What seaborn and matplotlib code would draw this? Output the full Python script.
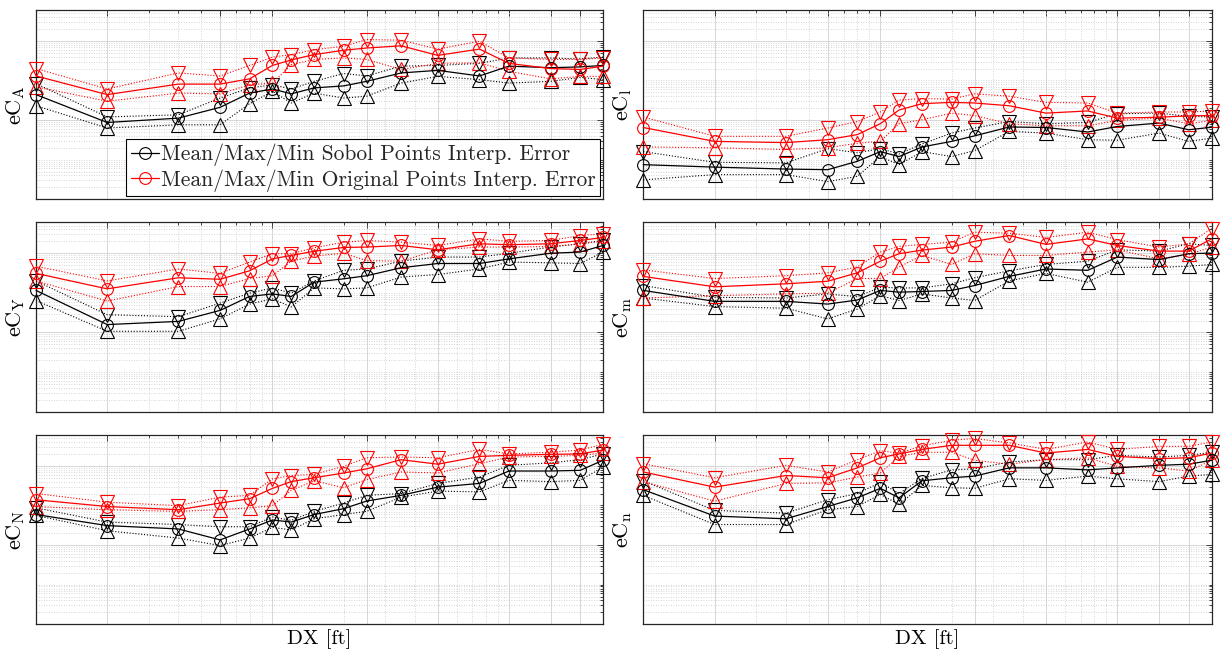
import seaborn as sns
import matplotlib.pyplot as plt
from matplotlib.ticker import FixedLocator, NullFormatter

dx = [1, 2, 4, 6, 8, 10, 12, 15, 20, 25, 35, 50, 75, 100, 150, 200, 250]

# eC_A
A_sob_mean = [0.044, 0.0087, 0.0112, 0.021, 0.048, 0.061, 0.046, 0.065, 0.073, 0.095, 0.155, 0.18, 0.13, 0.23, 0.21, 0.22, 0.24]
A_sob_max = [0.083, 0.012, 0.0136, 0.036, 0.065, 0.078, 0.061, 0.095, 0.15, 0.13, 0.23, 0.24, 0.27, 0.37, 0.37, 0.35, 0.39]
A_sob_min = [0.023, 0.0063, 0.0076, 0.0076, 0.026, 0.053, 0.027, 0.048, 0.036, 0.040, 0.086, 0.127, 0.105, 0.086, 0.095, 0.12, 0.105]
A_org_mean = [0.13, 0.044, 0.081, 0.081, 0.11, 0.24, 0.33, 0.45, 0.58, 0.66, 0.75, 0.43, 0.62, 0.27, 0.20, 0.19, 0.23]
A_org_max = [0.20, 0.061, 0.155, 0.13, 0.24, 0.39, 0.45, 0.60, 0.73, 1.08, 1.04, 0.62, 0.98, 0.37, 0.34, 0.34, 0.37]
A_org_min = [0.069, 0.030, 0.048, 0.046, 0.078, 0.086, 0.25, 0.34, 0.37, 0.34, 0.19, 0.27, 0.28, 0.17, 0.11, 0.127, 0.127]

# eC_l
l_sob_mean = [0.00075, 0.00065, 0.00058, 0.00056, 0.00091, 0.0016, 0.0012, 0.0021, 0.0029, 0.0040, 0.0067, 0.0065, 0.0050, 0.0069, 0.0084, 0.0057, 0.0066]
l_sob_max = [0.0016, 0.00086, 0.00083, 0.0019, 0.0015, 0.0019, 0.0014, 0.0025, 0.0047, 0.0063, 0.0092, 0.0081, 0.0087, 0.0145, 0.015, 0.0124, 0.012]
l_sob_min = [0.00031, 0.00042, 0.00042, 0.00028, 0.00038, 0.0012, 0.00075, 0.0016, 0.0012, 0.0017, 0.0052, 0.0047, 0.0032, 0.0031, 0.0047, 0.0029, 0.0035]
l_org_mean = [0.0065, 0.0029, 0.0027, 0.0032, 0.0043, 0.0081, 0.018, 0.026, 0.028, 0.027, 0.023, 0.015, 0.017, 0.0112, 0.0118, 0.0128, 0.013]
l_org_max = [0.012, 0.0039, 0.0039, 0.0063, 0.0092, 0.016, 0.032, 0.035, 0.034, 0.046, 0.040, 0.028, 0.027, 0.015, 0.016, 0.016, 0.017]
l_org_min = [0.0021, 0.0020, 0.0018, 0.0020, 0.0026, 0.0029, 0.0081, 0.0102, 0.015, 0.013, 0.0081, 0.0072, 0.0072, 0.0098, 0.0112, 0.0081, 0.0098]

# eC_Y
Y_sob_mean = [0.115, 0.0158, 0.019, 0.036, 0.081, 0.094, 0.081, 0.186, 0.226, 0.27, 0.43, 0.55, 0.55, 0.72, 1.0, 1.07, 1.57]
Y_sob_max = [0.20, 0.028, 0.025, 0.055, 0.098, 0.133, 0.098, 0.20, 0.37, 0.40, 0.63, 0.80, 0.80, 1.0, 1.43, 1.73, 2.1]
Y_sob_min = [0.064, 0.0107, 0.0107, 0.022, 0.052, 0.071, 0.044, 0.133, 0.126, 0.133, 0.25, 0.29, 0.40, 0.60, 0.57, 0.55, 1.07]
Y_org_mean = [0.31, 0.126, 0.24, 0.22, 0.36, 0.72, 0.88, 1.12, 1.40, 1.43, 1.57, 1.22, 1.73, 1.64, 1.73, 2.1, 2.5]
Y_org_max = [0.47, 0.20, 0.40, 0.31, 0.60, 0.97, 0.97, 1.37, 1.9, 2.1, 1.9, 1.57, 2.3, 2.0, 2.1, 2.8, 3.1]
Y_org_min = [0.20, 0.062, 0.144, 0.144, 0.23, 0.27, 0.63, 0.85, 1.0, 0.65, 0.63, 1.22, 1.43, 1.43, 1.48, 1.73, 2.0]

# eC_m
m_sob_mean = [0.115, 0.061, 0.061, 0.052, 0.066, 0.115, 0.104, 0.108, 0.115, 0.153, 0.26, 0.40, 0.37, 0.80, 0.69, 0.97, 1.01]
m_sob_max = [0.153, 0.077, 0.074, 0.094, 0.080, 0.138, 0.133, 0.133, 0.169, 0.24, 0.36, 0.52, 0.63, 1.22, 1.13, 1.73, 1.57]
m_sob_min = [0.074, 0.045, 0.041, 0.022, 0.039, 0.085, 0.064, 0.094, 0.074, 0.064, 0.20, 0.31, 0.186, 0.44, 0.44, 0.47, 0.52]
m_org_mean = [0.26, 0.142, 0.169, 0.196, 0.32, 0.63, 0.97, 1.2, 1.43, 2.0, 2.8, 1.67, 2.3, 1.57, 1.13, 1.13, 2.3]
m_org_max = [0.38, 0.23, 0.27, 0.32, 0.45, 1.07, 1.48, 1.67, 1.9, 3.4, 3.2, 2.5, 3.4, 2.2, 1.43, 1.73, 4.2]
m_org_min = [0.074, 0.085, 0.094, 0.098, 0.23, 0.23, 0.45, 0.88, 0.52, 0.97, 0.88, 0.88, 1.07, 1.22, 0.72, 0.93, 1.43]

# eC_N
N_sob_mean = [0.059, 0.031, 0.0255, 0.0135, 0.0255, 0.043, 0.038, 0.059, 0.083, 0.129, 0.18, 0.29, 0.36, 0.74, 0.74, 0.77, 1.38]
N_sob_max = [0.087, 0.038, 0.033, 0.029, 0.029, 0.051, 0.042, 0.071, 0.115, 0.18, 0.20, 0.36, 0.52, 1.03, 1.19, 1.43, 2.0]
N_sob_min = [0.056, 0.023, 0.015, 0.0097, 0.015, 0.028, 0.024, 0.046, 0.059, 0.071, 0.162, 0.23, 0.22, 0.43, 0.40, 0.43, 0.93]
N_org_mean = [0.139, 0.094, 0.078, 0.115, 0.148, 0.27, 0.40, 0.50, 0.66, 0.84, 1.43, 1.1, 1.73, 1.84, 1.95, 2.0, 2.5]
N_org_max = [0.20, 0.121, 0.099, 0.162, 0.18, 0.47, 0.57, 0.61, 0.97, 1.6, 1.67, 1.6, 2.6, 2.0, 2.2, 2.5, 3.5]
N_org_min = [0.094, 0.078, 0.071, 0.078, 0.087, 0.099, 0.24, 0.42, 0.28, 0.45, 0.70, 0.66, 1.13, 1.67, 1.73, 1.84, 2.1]

# eC_n
n_sob_mean = [0.25, 0.054, 0.046, 0.094, 0.156, 0.27, 0.156, 0.42, 0.50, 0.55, 0.89, 0.89, 0.79, 0.89, 1.03, 1.1, 1.38]
n_sob_max = [0.42, 0.075, 0.064, 0.139, 0.20, 0.38, 0.20, 0.48, 0.79, 0.84, 1.25, 1.43, 1.43, 1.84, 1.67, 1.84, 2.2]
n_sob_min = [0.18, 0.033, 0.033, 0.078, 0.094, 0.19, 0.106, 0.32, 0.28, 0.27, 0.47, 0.43, 0.55, 0.47, 0.40, 0.55, 0.61]
n_org_mean = [0.70, 0.29, 0.57, 0.50, 0.89, 1.6, 2.0, 2.6, 3.3, 3.3, 3.3, 2.1, 2.6, 1.73, 1.52, 1.6, 2.1]
n_org_max = [1.13, 0.50, 1.03, 0.70, 1.43, 2.4, 2.1, 3.2, 4.4, 4.9, 3.8, 2.6, 4.0, 2.6, 3.1, 3.1, 4.0]
n_org_min = [0.40, 0.128, 0.36, 0.37, 0.52, 0.66, 1.73, 2.2, 2.2, 1.38, 1.1, 1.43, 1.6, 0.97, 0.89, 0.74, 1.38]

panels = [
    (r'$\mathrm{eC}_\mathrm{A}$', [A_sob_mean, A_sob_max, A_sob_min], [A_org_mean, A_org_max, A_org_min]),
    (r'$\mathrm{eC}_\mathrm{l}$', [l_sob_mean, l_sob_max, l_sob_min], [l_org_mean, l_org_max, l_org_min]),
    (r'$\mathrm{eC}_\mathrm{Y}$', [Y_sob_mean, Y_sob_max, Y_sob_min], [Y_org_mean, Y_org_max, Y_org_min]),
    (r'$\mathrm{eC}_\mathrm{m}$', [m_sob_mean, m_sob_max, m_sob_min], [m_org_mean, m_org_max, m_org_min]),
    (r'$\mathrm{eC}_\mathrm{N}$', [N_sob_mean, N_sob_max, N_sob_min], [N_org_mean, N_org_max, N_org_min]),
    (r'$\mathrm{eC}_\mathrm{n}$', [n_sob_mean, n_sob_max, n_sob_min], [n_org_mean, n_org_max, n_org_min]),
]

sns.set_theme(style='white')
plt.rcParams['font.family'] = ['cmr10', 'DejaVu Serif']
plt.rcParams['mathtext.fontset'] = 'cm'
plt.rcParams['axes.unicode_minus'] = False
plt.rcParams['axes.formatter.use_mathtext'] = True

fig = plt.figure(figsize=(12.25, 6.52), dpi=100)
lefts = [0.0294, 0.5251]
widths = [0.4629, 0.4640]
bottoms = [0.6943, 0.3686, 0.0425]
height = 0.2903

x_major = [2, 6, 10, 25, 50, 100, 150, 200]
x_minor = [m * 10 ** k for k in range(0, 3) for m in range(1, 10) if m * 10 ** k <= 250]
y_major = [1e-4, 1e-2, 1e0]
y_minor = [m * 10.0 ** k for k in range(-4, 1) for m in range(1, 10)]

dot = (0, (1, 1.6))

for i, (ylab, sob, org) in enumerate(panels):
    row, col = divmod(i, 2)
    ax = fig.add_axes([lefts[col], bottoms[row], widths[col], height])
    for series, color, lab in [(sob, 'black', 'Mean/Max/Min Sobol Points Interp. Error'),
                               (org, 'red', 'Mean/Max/Min Original Points Interp. Error')]:
        mean, vmax, vmin = series
        sns.lineplot(x=dx, y=mean, ax=ax, color=color, lw=0.9, marker='o', ms=8.5,
                     mfc='none', mec=color, mew=0.8, label=lab, clip_on=False, zorder=4)
        sns.lineplot(x=dx, y=vmax, ax=ax, color=color, lw=0.8, linestyle=dot, marker='v', ms=10,
                     mfc='none', mec=color, mew=0.8, clip_on=False, zorder=3)
        sns.lineplot(x=dx, y=vmin, ax=ax, color=color, lw=0.8, linestyle=dot, marker='^', ms=10,
                     mfc='none', mec=color, mew=0.8, clip_on=False, zorder=3)

    ax.set_xscale('log')
    ax.set_yscale('log')
    ax.set_xlim(1, 250)
    ax.set_ylim(1e-4, 6.0)
    ax.xaxis.set_major_locator(FixedLocator(x_major))
    ax.xaxis.set_minor_locator(FixedLocator(x_minor))
    ax.yaxis.set_major_locator(FixedLocator(y_major))
    ax.yaxis.set_minor_locator(FixedLocator(y_minor))
    for a in (ax.xaxis, ax.yaxis):
        a.set_major_formatter(NullFormatter())
        a.set_minor_formatter(NullFormatter())
    ax.set_axisbelow(True)
    ax.grid(which='major', color='#d6d6d6', lw=0.7, ls='-')
    ax.grid(which='minor', color='#c8c8c8', lw=0.6, ls=(0, (1, 2)))
    ax.tick_params(which='both', direction='in', top=True, right=True, color='#262626', width=0.6)
    ax.tick_params(which='major', length=4)
    ax.tick_params(which='minor', length=2.2)
    for s in ax.spines.values():
        s.set_color('#262626')
        s.set_linewidth(0.9)
    ax.set_ylabel(ylab, fontsize=16, labelpad=3, color='black')
    ax.set_xlabel('')
    if row == 2:
        ax.set_xlabel('DX [ft]', fontsize=15, labelpad=0, color='black')

    if i == 0:
        h, l = ax.get_legend_handles_labels()
        leg = ax.legend(h[:2], l[:2], loc='lower right', fontsize=15.5, frameon=True, fancybox=False,
                        edgecolor='black', framealpha=1, borderaxespad=0.15, handlelength=1.3,
                        handletextpad=0.1, borderpad=0.2, labelspacing=0.15)
        leg.get_frame().set_linewidth(0.8)
    else:
        if ax.get_legend() is not None:
            ax.get_legend().remove()

fig.savefig('out.png', dpi=100)
